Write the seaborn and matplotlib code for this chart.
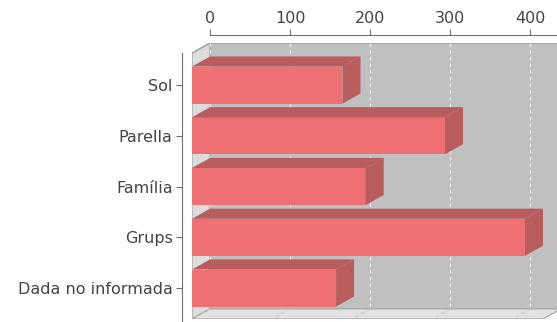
"""
3D-style horizontal bar chart (JFreeChart look) with seaborn.
"""

import pandas as pd
from matplotlib import pyplot as plt
from matplotlib.patches import Polygon
import seaborn as sns

categories = ["Sol", "Parella", "Família", "Grups", "Dada no informada"]
values = [188, 316, 217, 416, 180]
ticks = [0, 100, 200, 300, 400]

front_color = "#EF7073"
shade_color = "#B85C5D"
wall_color = "#C0C0C0"
side_wall_color = "#DCDCDC"
floor_color = "#E2E2E2"

# depth of the 3D effect in data units
dx = 22.5
dy = 0.2
xmax = 456
ytop, ybot = -0.83, 4.61

sns.set_style("white")
plt.rcParams["font.family"] = ["DejaVu Sans"]

fig = plt.figure(figsize=[5.57, 3.22], dpi=100)
ax = fig.add_axes([192 / 557, 1 - 319 / 322, 365 / 557, 276 / 322])

df = pd.DataFrame({"category": categories, "value": values})
sns.barplot(data=df, x="value", y="category", orient="h", width=0.73,
            color=front_color, saturation=1, linewidth=0, ax=ax, zorder=3)

# walls and floor
ax.add_patch(Polygon([(dx, ytop), (xmax + 5, ytop), (xmax + 5, ybot - dy),
                      (dx, ybot - dy)], closed=True, fc=wall_color,
                     ec="none", zorder=0))
ax.add_patch(Polygon([(0, ytop + dy), (dx, ytop), (dx, ybot - dy), (0, ybot)],
                     closed=True, fc=side_wall_color, ec="#A0A0A0", lw=0.8,
                     zorder=1))
ax.add_patch(Polygon([(0, ybot), (dx, ybot - dy), (xmax + 5, ybot - dy),
                      (xmax + 5 - dx, ybot)], closed=True, fc=floor_color,
                     ec="#A0A0A0", lw=0.8, zorder=1))
ax.plot([0, dx, xmax + 5], [ytop + dy, ytop, ytop], color="#A0A0A0", lw=1,
        zorder=1)

# gridlines on the back wall and the floor
for t in ticks:
    ax.plot([t + dx, t + dx], [ytop, ybot - dy], color="#F4F4F4", lw=0.8,
            ls=(0, (3, 3)), zorder=2)
    ax.plot([t + dx, t], [ybot - dy, ybot], color="#C8C8C8", lw=0.8,
            ls=(0, (3, 3)), zorder=2)

# top and side faces of each bar
bars = list(ax.patches)[:len(values)]
for p in bars:
    x0, y0 = p.get_x(), p.get_y()
    x1, y1 = x0 + p.get_width(), y0 + p.get_height()
    top = Polygon([(x0, y0), (x0 + dx, y0 - dy), (x1 + dx, y0 - dy),
                   (x1, y0)], closed=True, fc=shade_color, ec="none",
                  zorder=3)
    side = Polygon([(x1, y0), (x1 + dx, y0 - dy), (x1 + dx, y1 - dy),
                    (x1, y1)], closed=True, fc=shade_color, ec="none",
                   zorder=3)
    ax.add_patch(top)
    ax.add_patch(side)

ax.set_xlim(0, xmax)
ax.set_ylim(ybot, ytop)
ax.set_xlabel("")
ax.set_ylabel("")
ax.set_xticks([])

for s in ["top", "right", "bottom"]:
    ax.spines[s].set_visible(False)
ax.spines["left"].set_position(("outward", 7))
ax.spines["left"].set_color("#707070")
ax.spines["left"].set_bounds(ytop + 0.2, ybot + 0.05)
ax.tick_params(axis="y", length=4, width=0.8, color="#707070",
               labelsize=11.5, labelcolor="#444444", left=True, pad=3)

sec = ax.secondary_xaxis(1.03, functions=(lambda x: x - dx, lambda x: x + dx))
sec.set_xticks(ticks)
sec.spines["top"].set_bounds(0, xmax)
sec.spines["top"].set_color("#707070")
sec.tick_params(length=4, width=0.8, color="#707070", labelsize=11.5,
                labelcolor="#444444", pad=2)

fig.savefig("out.png", dpi=100)
